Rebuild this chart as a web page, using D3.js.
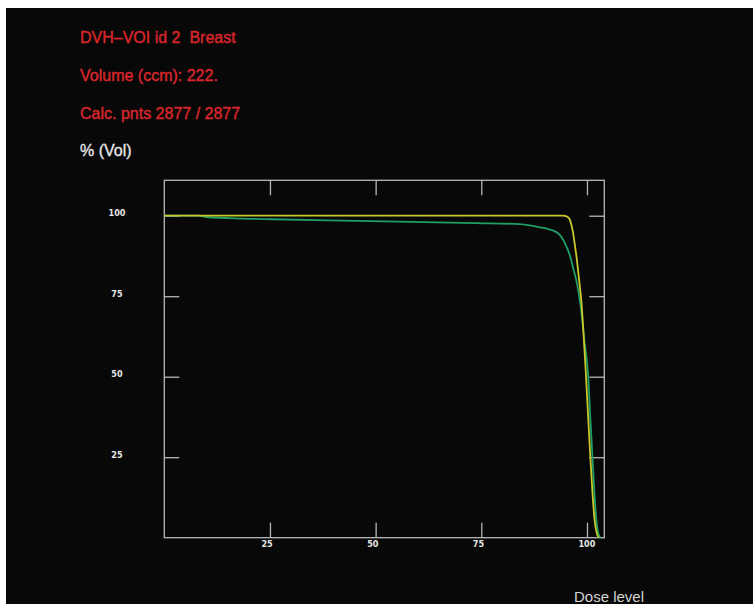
<!DOCTYPE html>
<html>
<head>
<meta charset="utf-8">
<script src="https://cdn.jsdelivr.net/npm/d3@7"></script>
<style>
  html, body { margin: 0; padding: 0; background: #ffffff; }
  svg { display: block; }
  text { white-space: pre; }
</style>
</head>
<body>
<svg id="chart" width="753" height="604"></svg>
<script>
// Header lines of the DVH report
const headerLines = ["DVH\u2013VOI id 2  Breast", "Volume (ccm): 222.", "Calc. pnts 2877 / 2877"];
const yAxisTitle = "% (Vol)";
const xAxisTitle = "Dose level";

// Axis ticks
const xTicks = [25, 50, 75, 100];
const yTicks = [25, 50, 75, 100];

// Cumulative DVH curves: dose level (%) and volume (%)
const yellowDose = [0, 60, 94.3, 95.3, 95.9, 96.3, 96.7, 97.1, 97.5, 98.1, 98.7, 99.2, 99.7, 100.3, 100.8, 101.3, 101.8, 102.3, 102.8];
const yellowVol  = [100, 100, 100, 99.7, 98.9, 97.2, 94.8, 91.2, 87.5, 80.5, 73.0, 63.0, 52.0, 37.0, 25.0, 14.0, 5.5, 1.5, 0];

const greenDose = [0, 8, 10, 18.6, 25.4, 49, 73.5, 84, 86.5, 88.9, 90.5, 92.0, 93.0, 93.9, 94.8, 96.0, 96.8, 97.6, 98.5, 99.4, 100.3, 100.8, 101.3, 101.8, 102.3, 102.7, 103.2];
const greenVol  = [100, 100, 99.6, 99.1, 98.9, 98.3, 97.7, 97.4, 97.0, 96.4, 96.0, 95.4, 94.7, 93.5, 91.4, 87.5, 83.4, 79.2, 72.0, 61.0, 50.0, 37.0, 25.0, 13.0, 4.5, 1.2, 0];

const svg = d3.select("#chart");

// dark panel
svg.append("rect").attr("x", 6).attr("y", 8).attr("width", 747).attr("height", 596).attr("fill", "#080808");

// header text
const titleFont = "'Liberation Sans', Arial, sans-serif";
const baselines = [43, 81, 119];
headerLines.forEach((t, i) => {
  svg.append("text").attr("x", 80).attr("y", baselines[i])
    .attr("fill", "#d6262b").attr("stroke", "#d6262b").attr("stroke-width", 0.45)
    .attr("font-family", titleFont).attr("font-size", 16)
    .text(t);
});
svg.append("text").attr("x", 80).attr("y", 156)
  .attr("fill", "#e6e6e6").attr("stroke", "#e6e6e6").attr("stroke-width", 0.35)
  .attr("font-family", titleFont).attr("font-size", 16)
  .text(yAxisTitle);
svg.append("text").attr("x", 574).attr("y", 602)
  .attr("fill", "#d4d4d4").attr("font-family", titleFont).attr("font-size", 15)
  .text(xAxisTitle);

// plot frame geometry
const plotLeft = 164.3, plotRight = 604.3, plotTop = 180.3, plotBottom = 537.7;
const x = d3.scaleLinear().domain([0, 104.1]).range([plotLeft, plotRight]);
const y = d3.scaleLinear().domain([0, 111]).range([plotBottom, plotTop]);

const frameColor = "#b8b8b8";
const tickLen = 15;

svg.append("rect").attr("x", plotLeft).attr("y", plotTop)
  .attr("width", plotRight - plotLeft).attr("height", plotBottom - plotTop)
  .attr("fill", "none").attr("stroke", frameColor).attr("stroke-width", 1.3);

function styleAxis(g) {
  g.select(".domain").remove();
  g.selectAll(".tick line").attr("stroke", frameColor).attr("stroke-width", 1.3);
}

const labelFont = "'DejaVu Sans Condensed', 'DejaVu Sans', sans-serif";

// bottom axis with labels
const gBottom = svg.append("g").attr("transform", `translate(0,${plotBottom})`)
  .call(d3.axisBottom(x).tickValues(xTicks).tickSizeInner(-tickLen).tickSizeOuter(0));
styleAxis(gBottom);
gBottom.selectAll(".tick text")
  .attr("x", -9).attr("y", 9.5).attr("dy", null)
  .attr("text-anchor", "start")
  .attr("fill", "#e8e8e8").attr("font-family", labelFont)
  .attr("font-weight", "bold").attr("font-size", 9);

// top axis, ticks only
const gTop = svg.append("g").attr("transform", `translate(0,${plotTop})`)
  .call(d3.axisTop(x).tickValues(xTicks).tickSizeInner(-tickLen).tickSizeOuter(0).tickFormat(""));
styleAxis(gTop);

// left axis with labels
const gLeft = svg.append("g").attr("transform", `translate(${plotLeft},0)`)
  .call(d3.axisLeft(y).tickValues(yTicks).tickSizeInner(-tickLen).tickSizeOuter(0));
styleAxis(gLeft);
gLeft.selectAll(".tick text")
  .attr("x", 117 - plotLeft).attr("y", 0).attr("dy", null)
  .attr("text-anchor", "middle")
  .attr("fill", "#e8e8e8").attr("font-family", labelFont)
  .attr("font-weight", "bold").attr("font-size", 9);

// right axis, ticks only
const gRight = svg.append("g").attr("transform", `translate(${plotRight},0)`)
  .call(d3.axisRight(y).tickValues(yTicks).tickSizeInner(-tickLen).tickSizeOuter(0).tickFormat(""));
styleAxis(gRight);

// DVH curves
const line = d3.line()
  .x(d => x(d[0]))
  .y(d => y(d[1]))
  .curve(d3.curveMonotoneX);

const greenData = d3.zip(greenDose, greenVol);
const yellowData = d3.zip(yellowDose, yellowVol);

svg.append("path").datum(greenData)
  .attr("d", line).attr("fill", "none")
  .attr("stroke", "#1f9e66").attr("stroke-width", 1.8);

svg.append("path").datum(yellowData)
  .attr("d", line).attr("fill", "none")
  .attr("stroke", "#c9c82a").attr("stroke-width", 1.8);
</script>
</body>
</html>
